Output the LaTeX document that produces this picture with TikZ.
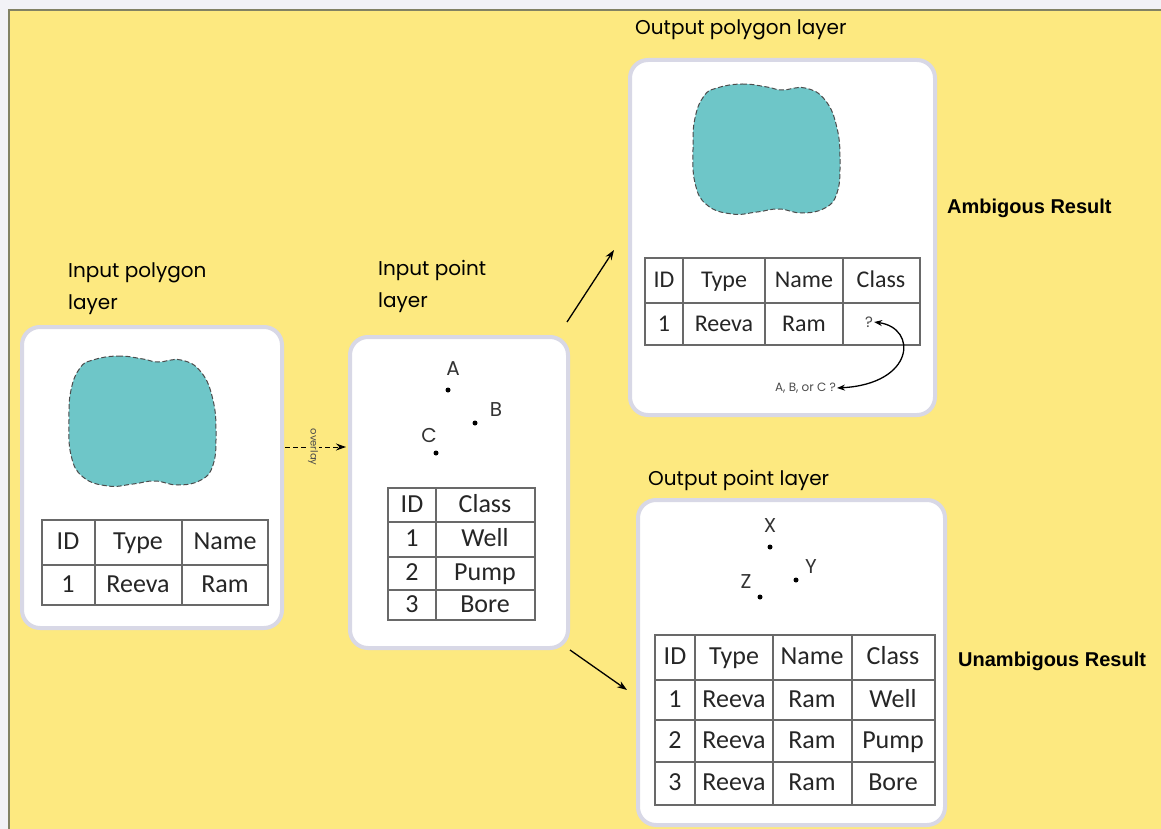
\documentclass[tikz,border=0pt]{standalone}
\usepackage{fontspec}
\setmainfont{Carlito}
\newfontfamily\handfont{Poppins}
\newfontfamily\boldfont{Liberation Sans}
\usetikzlibrary{positioning,arrows.meta}
\definecolor{bgyellow}{RGB}{253,233,128}
\definecolor{outergray}{RGB}{242,242,246}
\definecolor{yellowrim}{RGB}{130,130,100}
\definecolor{blobteal}{RGB}{110,198,200}
\definecolor{panelrim}{RGB}{216,216,230}
\definecolor{gridgray}{RGB}{105,105,105}

\tikzset{pics/lake/.style={code={
  \draw[blob] plot[smooth cycle, tension=0.75] coordinates {
    (-50,-60) (-25,-64) (0,-61) (15,-58) (38,-60) (58,-48) (70,-20) (73,15)
    (70,45) (58,60) (35,65) (12,61) (-10,64) (-35,66) (-60,57) (-72,35)
    (-74,0) (-72,-30) (-63,-52)};
}}}

\begin{document}
\begin{tikzpicture}[x=1pt,y=-1pt,
  panel/.style={draw=panelrim, line width=4, fill=white, rounded corners=18},
  blob/.style={fill=blobteal, draw=black!70, dash pattern=on 5 off 2.5, line width=1},
  grid/.style={draw=gridgray, line width=1.3},
  cell/.style={font=\fontsize{26}{26}\selectfont, text=black!85, inner sep=0, anchor=base},
  cellsm/.style={cell, font=\fontsize{24}{24}\selectfont},
  title/.style={font=\handfont\fontsize{20}{20}\selectfont, text=black, inner sep=0, anchor=base west},
  result/.style={font=\boldfont\bfseries\fontsize{20}{20}\selectfont, inner sep=0, anchor=base west},
  pt/.style={circle, fill=black, inner sep=0, minimum size=5},
  ptlb/.style={font=\handfont\fontsize{20}{20}\selectfont, text=black!80, inner sep=0},
  arr/.style={-{Stealth[length=10,width=7]}, line width=1.3},
]
\useasboundingbox (0,0) rectangle (1161,829);
\fill[outergray] (0,0) rectangle (1161,829);
\fill[bgyellow] (9,10) rectangle (1161,829);
\draw[yellowrim, line width=1.2] (9,829) -- (9,10) -- (1161,10);

% panels
\node[panel, minimum width=260, minimum height=301] (inpoly) at (152,477.5) {};
\node[panel, minimum width=218, minimum height=311] (inpt) at (459,492.5) {};
\node[panel, minimum width=305, minimum height=355] (outpoly) at (782.5,237.5) {};
\node[panel, minimum width=307, minimum height=325] (outpt) at (791.5,662.5) {};

% titles
\node[title] (inpolyT) at (68,277) {Input polygon};
\node[title] (inpolyT2) at (68,309) {layer};
\node[title] (inptT) at (378,275) {Input point};
\node[title] (inptT2) at (378,307) {layer};
\node[title] (outpolyT) at (635,35) {Output polygon layer};
\node[title] (outptT) at (648,485) {Output point layer};
\node[result] (ambig) at (947,214) {Ambigous Result};
\node[result] (unambig) at (958,666) {Unambigous Result};

% polygons
\pic at (143,420) {lake};
\pic at (767,148) {lake};

% input polygon table
\draw[grid] (42,520) rectangle (268,605) (95,520) -- (95,605) (182,520) -- (182,605) (42,565) -- (268,565);
\foreach \x/\txt [count=\i] in {68/ID,138/Type,225/Name} \node[cell] (ta-h\i) at (\x,549) {\txt};
\foreach \x/\txt [count=\i] in {68/1,138/Reeva,225/Ram} \node[cell] (ta-r\i) at (\x,592) {\txt};

% input points
\node[pt] (pA) at (448,390) {}; \node[ptlb] (lA) at (453,369) {A};
\node[pt] (pB) at (475,423) {}; \node[ptlb] (lB) at (496,410) {B};
\node[pt] (pC) at (436,453) {}; \node[ptlb] (lC) at (429,435) {C};

% input point table
\draw[grid] (388,488) rectangle (535,620) (436,488) -- (436,620) (388,522) -- (535,522) (388,557) -- (535,557) (388,590) -- (535,590);
\foreach \y/\n/\c [count=\r] in {512/ID/Class,546/1/Well,580/2/Pump,612/3/Bore} {
  \node[cell] (tb-\r-1) at (412,\y) {\n};
  \node[cell] (tb-\r-2) at (485,\y) {\c};
}

% output polygon table
\draw[grid] (645,258) rectangle (920,345) (683,258) -- (683,345) (765,258) -- (765,345) (843,258) -- (843,345) (645,303) -- (920,303);
\foreach \x/\txt [count=\i] in {664/ID,724/Type,804/Name,881/Class} \node[cellsm] (tc-h\i) at (\x,287) {\txt};
\foreach \x/\txt [count=\i] in {664/1,724/Reeva,804/Ram} \node[cellsm] (tc-r\i) at (\x,331) {\txt};
\node[font=\handfont\fontsize{15}{15}\selectfont, text=black!70, inner sep=1] (qmark) at (869,322) {?};
\node[font=\handfont\fontsize{12}{12}\selectfont, text=black!70, inner sep=1, anchor=east] (abc) at (837,388) {A, B, or C ?};
\draw[{Stealth[length=8,width=6]}-{Stealth[length=8,width=6]}, line width=1.3] (qmark.east) .. controls (918,328) and (915,384) .. (abc.east);

% output points
\node[pt] (pX) at (770,547) {}; \node[ptlb] (lX) at (770,526) {X};
\node[pt] (pY) at (796,580) {}; \node[ptlb] (lY) at (811,567) {Y};
\node[pt] (pZ) at (760,597) {}; \node[ptlb] (lZ) at (746,582) {Z};

% output point table
\draw[grid] (655,635) rectangle (935,805) (695,635) -- (695,805) (773,635) -- (773,805) (852,635) -- (852,805)
  (655,680) -- (935,680) (655,720) -- (935,720) (655,762) -- (935,762);
\foreach \x/\txt [count=\i] in {675/ID,734/Type,812/Name,893/Class} \node[cell] (td-h\i) at (\x,664) {\txt};
\foreach \y/\n/\c [count=\r] in {707/1/Well,748/2/Pump,790/3/Bore} {
  \node[cell] (td-\r-1) at (675,\y) {\n};
  \node[cell] (td-\r-2) at (734,\y) {Reeva};
  \node[cell] (td-\r-3) at (812,\y) {Ram};
  \node[cell] (td-\r-4) at (893,\y) {\c};
}

% connectors
\coordinate (ovA) at (285,447);
\coordinate (ovB) at (346,447);
\draw[arr, dash pattern=on 5 off 3, line width=1] (ovA) -- (ovB);
\node[font=\handfont\fontsize{10}{10}\selectfont, text=black!70, rotate=-90, fill=bgyellow, inner sep=1] (ovl) at (313,447) {overlay};
\coordinate (upA) at (567,322);
\coordinate (upB) at (614,250);
\draw[arr] (upA) -- (upB);
\coordinate (dnA) at (570,650);
\coordinate (dnB) at (627,690);
\draw[arr] (dnA) -- (dnB);
\end{tikzpicture}
\end{document}
